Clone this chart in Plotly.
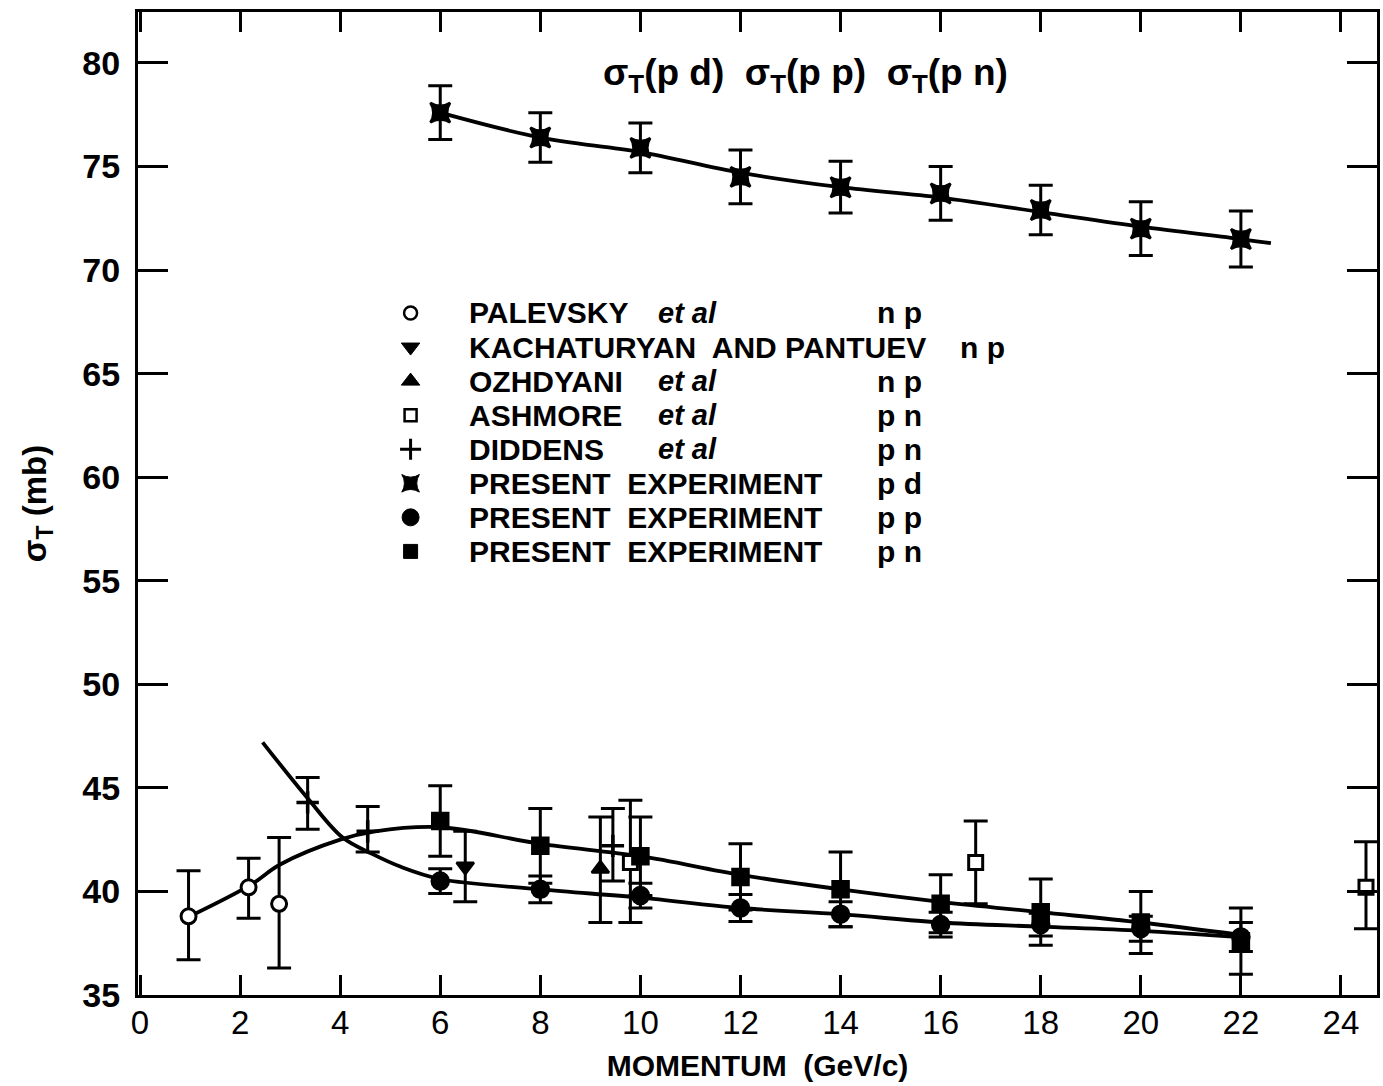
import plotly.graph_objects as go

# ---------------- data ----------------
# Palevsky et al, np (open circles)
pal_x = [0.97, 2.17, 2.78]
pal_y = [38.8, 40.2, 39.4]
pal_up = [2.2, 1.4, 3.2]
pal_dn = [2.1, 1.5, 3.1]

# Kachaturyan and Pantuev, np (down triangle)
kac_x = [6.5]
kac_y = [41.2]
kac_up = [1.7]
kac_dn = [1.7]

# Ozhdyani et al, np (up triangle)
ozh_x = [9.2]
ozh_y = [41.1]
ozh_up = [2.5]
ozh_dn = [2.6]

# Ashmore et al, pn (open squares)
ash_x = [9.8, 16.7, 24.5]
ash_y = [41.4, 41.4, 40.2]
ash_up = [3.0, 2.0, 2.2]
ash_dn = [2.9, 2.0, 2.0]

# Diddens et al, pn (plus)
did_x = [3.35, 4.55, 9.45]
did_y = [44.3, 42.9, 42.2]
did_up = [1.2, 1.2, 1.8]
did_dn = [1.3, 1.0, 1.7]

# Present experiment
p_x = [6, 8, 10, 12, 14, 16, 18, 20, 22]
pd_y = [77.6, 76.4, 75.9, 74.5, 74.0, 73.7, 72.9, 72.0, 71.5]
pd_err = [1.3, 1.2, 1.2, 1.3, 1.25, 1.3, 1.2, 1.3, 1.35]
pp_y = [40.5, 40.1, 39.8, 39.2, 38.9, 38.4, 38.4, 38.2, 37.8]
pp_err = [0.6, 0.65, 0.6, 0.65, 0.6, 0.6, 0.55, 0.6, 0.7]
pn_y = [43.4, 42.2, 41.7, 40.7, 40.1, 39.4, 39.0, 38.5, 37.6]
pn_err = [1.7, 1.8, 1.9, 1.6, 1.8, 1.4, 1.6, 1.5, 1.6]

# hand-drawn curves
cpd_x = [6, 8, 10, 12, 14, 16, 18, 20, 22, 22.6]
cpd_y = [77.6, 76.4, 75.7, 74.7, 74.0, 73.5, 72.8, 72.1, 71.5, 71.3]
cpn_x = [1.0, 2.2, 2.8, 4.0, 4.7, 6.0, 8.0, 10.0, 12.0, 14.0, 16.0, 18.0, 20.0, 22.0]
cpn_y = [38.8, 40.3, 41.3, 42.5, 42.9, 43.1, 42.3, 41.7, 40.8, 40.1, 39.5, 39.0, 38.5, 37.9]
cpp_x = [2.45, 3.35, 4.05, 4.65, 5.2, 6.0, 8.0, 10.0, 12.0, 14.0, 16.0, 18.0, 20.0, 22.0]
cpp_y = [47.2, 44.5, 42.6, 41.8, 41.2, 40.6, 40.1, 39.7, 39.2, 38.9, 38.5, 38.3, 38.1, 37.8]

x_ticks = [0, 2, 4, 6, 8, 10, 12, 14, 16, 18, 20, 22, 24]
y_ticks = [35, 40, 45, 50, 55, 60, 65, 70, 75, 80]

legend_name = ["PALEVSKY", "KACHATURYAN  AND PANTUEV", "OZHDYANI", "ASHMORE", "DIDDENS",
               "PRESENT  EXPERIMENT", "PRESENT  EXPERIMENT", "PRESENT  EXPERIMENT"]
legend_etal = ["et al", "", "et al", "et al", "et al", "", "", ""]
legend_reac = ["n p", "n p", "n p", "p n", "p n", "p d", "p p", "p n"]

FONT = "Liberation Sans, Arial, sans-serif"
BLK = "black"

# legend key styles (symbol, size, fill, outline width)
key_styles = [("circle", 13, "white", 2.5), ("triangle-down", 16, BLK, 1), ("triangle-up", 16, BLK, 1),
              ("square", 12, "white", 2.5), ("cross-thin-open", 15, BLK, 3),
              ("star-square", 16, BLK, 1), ("circle", 17, BLK, 1), ("square", 14, BLK, 1)]

fig = go.Figure()

# curves
for cx, cy in [(cpd_x, cpd_y), (cpn_x, cpn_y), (cpp_x, cpp_y)]:
    fig.add_trace(go.Scatter(x=cx, y=cy, mode="lines", line=dict(color=BLK, width=3.8, shape="spline"),
                             hoverinfo="skip", showlegend=False))


def pts(x, y, up, dn, symbol, size, fill=BLK, lw=2.5):
    fig.add_trace(go.Scatter(
        x=x, y=y, mode="markers",
        marker=dict(symbol=symbol, size=size, color=fill, line=dict(color=BLK, width=lw)),
        error_y=dict(type="data", array=up, arrayminus=dn, color=BLK, thickness=3, width=12),
        showlegend=False))


pts(pal_x, pal_y, pal_up, pal_dn, "circle", 15, fill="white", lw=3)
pts(kac_x, kac_y, kac_up, kac_dn, "triangle-down", 15)
pts(ozh_x, ozh_y, ozh_up, ozh_dn, "triangle-up", 15)
pts(ash_x, ash_y, ash_up, ash_dn, "square", 14, fill="white", lw=3)
pts(did_x, did_y, did_up, did_dn, "cross-thin-open", 16, lw=3.5)
pts(p_x, pd_y, pd_err, pd_err, "star-square", 18)
pts(p_x, pp_y, pp_err, pp_err, "circle", 17)
pts(p_x, pn_y, pn_err, pn_err, "square", 16)

# legend (keys drawn on an invisible overlay axis spanning the plot area)
row_top, row_step = 0.6938, 0.03465
rows_y = [row_top - i * row_step for i in range(len(legend_name))]
key_x = 0.220
for i, (sym, sz, fill, lw) in enumerate(key_styles):
    fig.add_trace(go.Scatter(x=[key_x], y=[rows_y[i]], xaxis="x2", yaxis="y2", mode="markers",
                             marker=dict(symbol=sym, size=sz, color=fill, line=dict(color=BLK, width=lw)),
                             hoverinfo="skip", showlegend=False))

for i in range(len(legend_name)):
    fig.add_annotation(xref="paper", yref="paper", x=0.2657, y=rows_y[i], text=legend_name[i],
                       showarrow=False, xanchor="left", yanchor="middle",
                       font=dict(family=FONT, size=30, color=BLK, weight="bold"))
    if legend_etal[i]:
        fig.add_annotation(xref="paper", yref="paper", x=0.418, y=rows_y[i], text=legend_etal[i],
                           showarrow=False, xanchor="left", yanchor="middle",
                           font=dict(family=FONT, size=29, color=BLK, weight="bold", style="italic"))
    fig.add_annotation(xref="paper", yref="paper", x=0.662 if i == 1 else 0.595, y=rows_y[i],
                       text=legend_reac[i], showarrow=False, xanchor="left", yanchor="middle",
                       font=dict(family=FONT, size=30, color=BLK, weight="bold"))

# title inside the plot
fig.add_annotation(xref="paper", yref="paper", x=0.539, y=0.936,
                   text="σ<sub>T</sub>(p d)  σ<sub>T</sub>(p p)  σ<sub>T</sub>(p n)",
                   showarrow=False, xanchor="center", yanchor="middle",
                   font=dict(family=FONT, size=37, color=BLK, weight="bold"))

fig.update_xaxes(range=[-0.04, 24.72], tickvals=x_ticks, ticktext=[str(v) for v in x_ticks],
                 ticks="inside", ticklen=20, tickwidth=2.5, tickcolor=BLK,
                 showline=True, linewidth=3, linecolor=BLK, mirror="ticks",
                 showgrid=False, zeroline=False, ticklabelstandoff=-4,
                 tickfont=dict(family=FONT, size=33, color=BLK),
                 title=dict(text="MOMENTUM  (GeV/c)",
                            font=dict(family=FONT, size=30, color=BLK, weight="bold"),
                            standoff=16))
fig.update_yaxes(range=[35, 82.46], tickvals=y_ticks, ticktext=[str(v) for v in y_ticks],
                 ticks="inside", ticklen=30, tickwidth=2.5, tickcolor=BLK,
                 showline=True, linewidth=3, linecolor=BLK, mirror="ticks",
                 showgrid=False, zeroline=False, ticklabelstandoff=8,
                 tickfont=dict(family=FONT, size=34, color=BLK, weight="bold"),
                 title=dict(text="σ<sub>T</sub> (mb)", font=dict(family=FONT, size=33, color=BLK,
                                                                 weight="bold"), standoff=26))

fig.update_layout(width=1383, height=1086, margin=dict(l=138, r=3, t=12, b=91),
                  paper_bgcolor="white", plot_bgcolor="white",
                  xaxis2=dict(overlaying="x", range=[0, 1], visible=False, fixedrange=True),
                  yaxis2=dict(overlaying="y", range=[0, 1], visible=False, fixedrange=True))

fig.write_html("out.html")
